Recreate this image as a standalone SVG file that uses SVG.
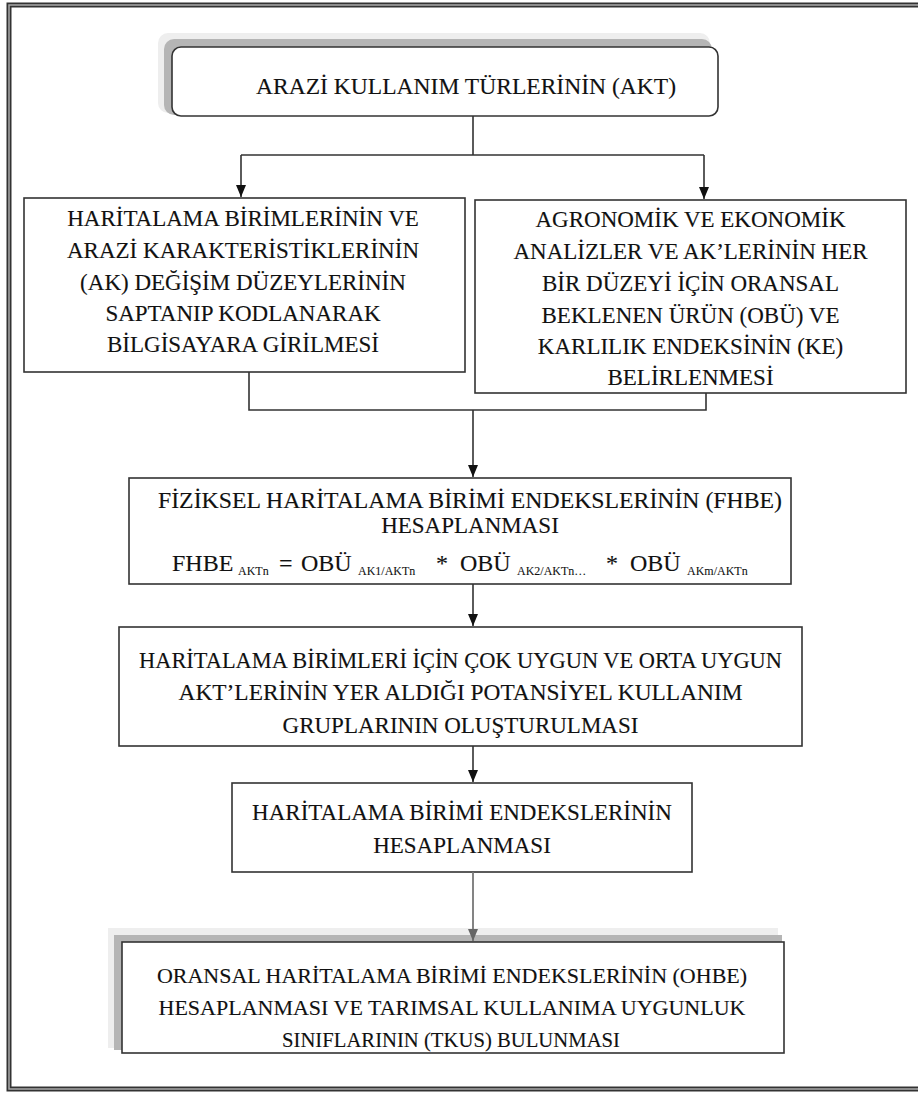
<svg xmlns="http://www.w3.org/2000/svg" width="918" height="1093" viewBox="0 0 918 1093">
<style>
.box{fill:#fff;stroke:#333;stroke-width:1.6}
.t{font-family:"Liberation Serif","Times New Roman",serif;font-size:23px;fill:#111;stroke:#111;stroke-width:0.12;text-anchor:middle}
.f{font-family:"Liberation Serif","Times New Roman",serif;font-size:24px;fill:#111;stroke:#111;stroke-width:0.12}
.sub{font-size:12px;stroke-width:0.08}
.ln{fill:none;stroke:#333;stroke-width:1.6}
.lg{fill:none;stroke:#777;stroke-width:1.8}
</style>
<defs>
<marker id="ah" viewBox="0 0 12 10" refX="12" refY="5" markerWidth="12" markerHeight="10" markerUnits="userSpaceOnUse" orient="auto">
<path d="M0,0 L12,5 L0,10 Z" fill="#111"/>
</marker>
<marker id="ahg" viewBox="0 0 12 10" refX="12" refY="5" markerWidth="12" markerHeight="10" markerUnits="userSpaceOnUse" orient="auto">
<path d="M0,0 L12,5 L0,10 Z" fill="#666"/>
</marker>
</defs>
<rect width="918" height="1093" fill="#fff"/>
<g id="frame">
<rect x="9" y="5" width="1000" height="1084" fill="none" stroke="#333" stroke-width="5"/>
<rect x="9" y="5" width="1000" height="1084" fill="none" stroke="#aaa" stroke-width="1.5"/>
</g>
<g id="n1">
<rect x="158" y="33" width="552" height="80" rx="10" fill="#eee"/>
<rect x="164" y="39" width="548" height="76" rx="10" fill="#b5b5b5"/>
<rect class="box" x="172" y="47" width="546" height="69" rx="9"/>
<text class="t" x="466" y="94" textLength="420" lengthAdjust="spacingAndGlyphs">ARAZİ KULLANIM TÜRLERİNİN (AKT)</text>
</g>
<g id="n2">
<rect class="box" x="24" y="198" width="441" height="174"/>
<text class="t" x="243" y="226">HARİTALAMA BİRİMLERİNİN VE</text>
<text class="t" x="243" y="258">ARAZİ KARAKTERİSTİKLERİNİN</text>
<text class="t" x="243" y="290">(AK) DEĞİŞİM DÜZEYLERİNİN</text>
<text class="t" x="243" y="321">SAPTANIP KODLANARAK</text>
<text class="t" x="243" y="352">BİLGİSAYARA GİRİLMESİ</text>
</g>
<g id="n3">
<rect class="box" x="475" y="200" width="431" height="193"/>
<text class="t" x="690.5" y="227">AGRONOMİK VE EKONOMİK</text>
<text class="t" x="690.5" y="259">ANALİZLER VE AK’LERİNİN HER</text>
<text class="t" x="690.5" y="291">BİR DÜZEYİ İÇİN ORANSAL</text>
<text class="t" x="690.5" y="323">BEKLENEN ÜRÜN (OBÜ) VE</text>
<text class="t" x="690.5" y="354">KARLILIK ENDEKSİNİN (KE)</text>
<text class="t" x="690.5" y="385">BELİRLENMESİ</text>
</g>
<g id="n4">
<rect class="box" x="129" y="478" width="662" height="106"/>
<text class="t" x="470" y="508" textLength="624" lengthAdjust="spacingAndGlyphs">FİZİKSEL HARİTALAMA BİRİMİ ENDEKSLERİNİN (FHBE)</text>
<text class="t" x="470" y="533">HESAPLANMASI</text>
<text class="f" y="571"><tspan x="172">FHBE</tspan><tspan class="sub" x="238" dy="4">AKTn</tspan><tspan x="279" dy="-4">=</tspan><tspan x="301">OBÜ</tspan><tspan class="sub" x="358" dy="4">AK1/AKTn</tspan><tspan x="436" dy="-4">*</tspan><tspan x="460">OBÜ</tspan><tspan class="sub" x="517" dy="4">AK2/AKTn…</tspan><tspan x="606" dy="-4">*</tspan><tspan x="630">OBÜ</tspan><tspan class="sub" x="687" dy="4">AKm/AKTn</tspan></text>
</g>
<g id="n5">
<rect class="box" x="119" y="627" width="683" height="119"/>
<text class="t" x="460.5" y="668" textLength="643" lengthAdjust="spacingAndGlyphs">HARİTALAMA BİRİMLERİ İÇİN ÇOK UYGUN VE ORTA UYGUN</text>
<text class="t" x="460.5" y="700" textLength="564" lengthAdjust="spacingAndGlyphs">AKT’LERİNİN YER ALDIĞI POTANSİYEL KULLANIM</text>
<text class="t" x="460.5" y="733">GRUPLARININ OLUŞTURULMASI</text>
</g>
<g id="n6">
<rect class="box" x="232" y="783" width="460" height="89"/>
<text class="t" x="462" y="820">HARİTALAMA BİRİMİ ENDEKSLERİNİN</text>
<text class="t" x="462" y="853">HESAPLANMASI</text>
</g>
<g id="n7">
<rect x="108" y="928" width="670" height="120" fill="#eee"/>
<rect x="114" y="935" width="668" height="115" fill="#b5b5b5"/>
<rect class="box" x="122" y="942" width="662" height="111"/>
<text class="t" x="452" y="983" style="font-size:22px">ORANSAL HARİTALAMA BİRİMİ ENDEKSLERİNİN (OHBE)</text>
<text class="t" x="452" y="1015" style="font-size:22px">HESAPLANMASI VE TARIMSAL KULLANIMA UYGUNLUK</text>
<text class="t" x="451" y="1047" style="font-size:22px" textLength="338" lengthAdjust="spacingAndGlyphs">SINIFLARININ (TKUS) BULUNMASI</text>
</g>
<g id="connectors">
<path class="ln" d="M473,116 V155 M241,155 H704"/>
<path class="ln" d="M241,155 V197" marker-end="url(#ah)"/>
<path class="ln" d="M704,155 V199" marker-end="url(#ah)"/>
<path class="ln" d="M249,372 V410 H706 V393"/>
<path class="ln" d="M473,410 V477" marker-end="url(#ah)"/>
<path class="ln" d="M473,584 V626" marker-end="url(#ah)"/>
<path class="ln" d="M473,746 V782" marker-end="url(#ah)"/>
<path class="lg" d="M473,872 V941" marker-end="url(#ahg)"/>
</g>
</svg>
